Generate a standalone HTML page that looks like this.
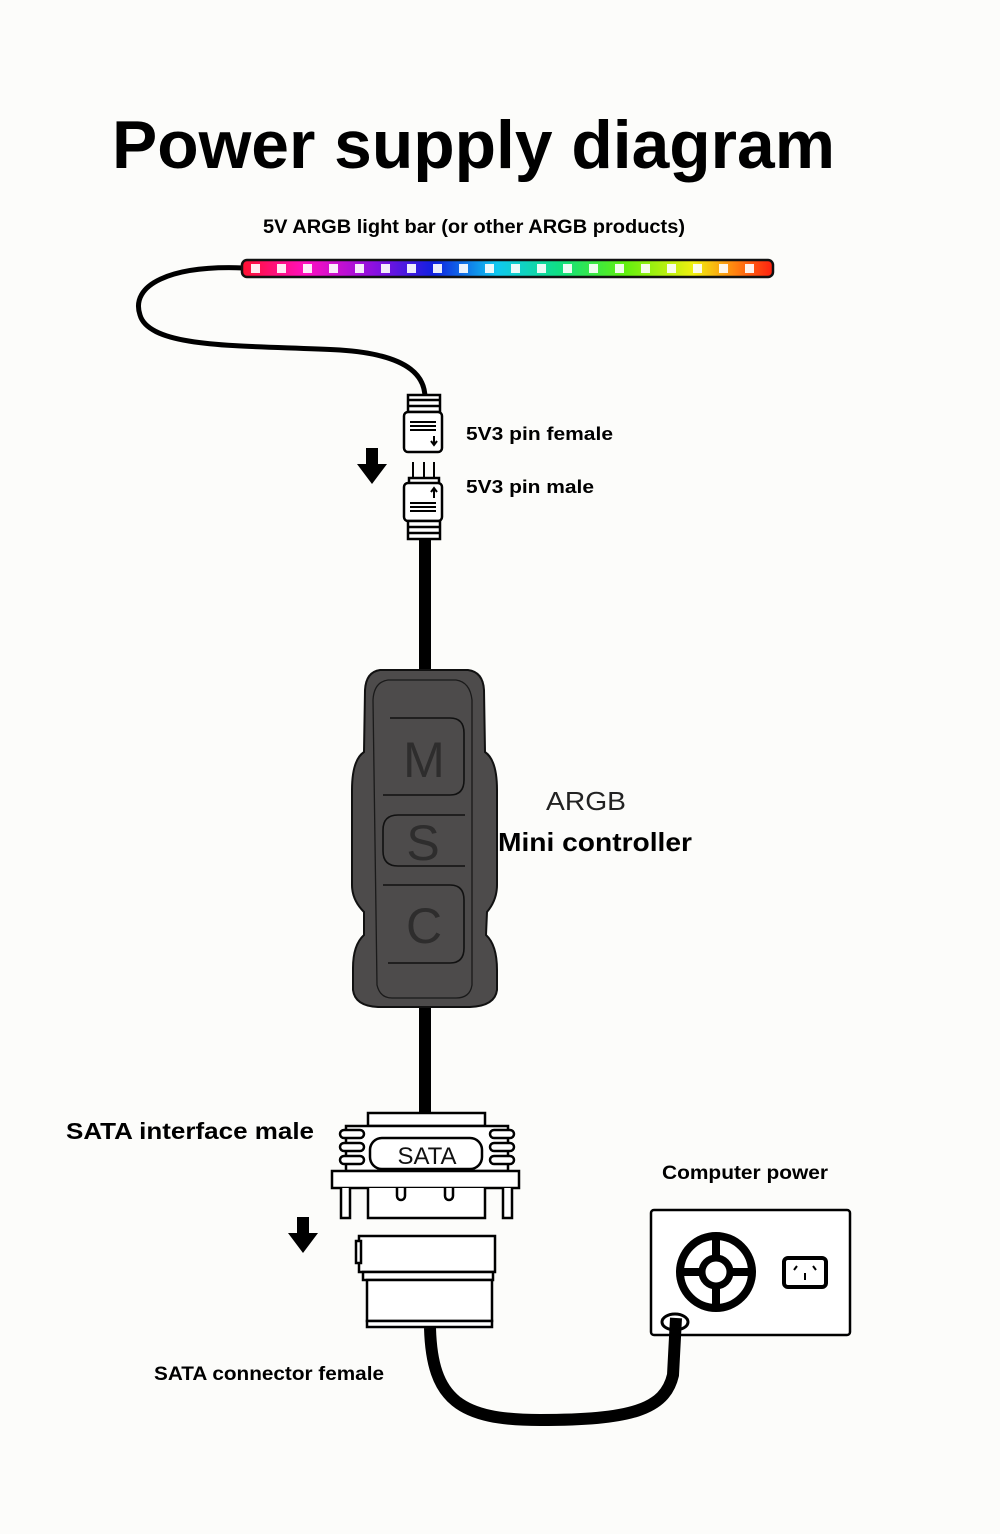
<!DOCTYPE html>
<html><head><meta charset="utf-8"><style>
html,body{margin:0;padding:0;background:#fcfcfa}
svg{display:block}
text{font-family:"Liberation Sans",sans-serif}
</style></head><body>
<svg width="1000" height="1534" viewBox="0 0 1000 1534" xmlns="http://www.w3.org/2000/svg">
<defs>
<linearGradient id="rb" x1="0" x2="1" y1="0" y2="0">
<stop offset="0" stop-color="#ff1030"/>
<stop offset="0.12" stop-color="#ff10c0"/>
<stop offset="0.25" stop-color="#8a10e0"/>
<stop offset="0.36" stop-color="#1020e0"/>
<stop offset="0.48" stop-color="#10c8f0"/>
<stop offset="0.6" stop-color="#10e080"/>
<stop offset="0.72" stop-color="#60f010"/>
<stop offset="0.85" stop-color="#f0f010"/>
<stop offset="0.93" stop-color="#ff8010"/>
<stop offset="1" stop-color="#ff2010"/>
</linearGradient>
</defs>
<rect width="1000" height="1534" fill="#fcfcfa"/>
<text x="112" y="168" font-size="68" font-weight="bold" textLength="723" lengthAdjust="spacingAndGlyphs">Power supply diagram</text>
<text x="263" y="233" font-size="19" font-weight="bold" textLength="422" lengthAdjust="spacingAndGlyphs">5V ARGB light bar (or other ARGB products)</text>

<path d="M244,268 C170,265 130,285 140,315 C150,350 250,345 340,350 C415,355 425,380 425,398" fill="none" stroke="#000" stroke-width="5"/>
<rect x="242" y="260" width="531" height="17" rx="5" fill="url(#rb)" stroke="#111" stroke-width="2.5"/>
<g fill="#fff" opacity="0.92">
<rect x="251" y="264" width="9" height="9"/><rect x="277" y="264" width="9" height="9"/><rect x="303" y="264" width="9" height="9"/><rect x="329" y="264" width="9" height="9"/><rect x="355" y="264" width="9" height="9"/><rect x="381" y="264" width="9" height="9"/><rect x="407" y="264" width="9" height="9"/><rect x="433" y="264" width="9" height="9"/><rect x="459" y="264" width="9" height="9"/><rect x="485" y="264" width="9" height="9"/><rect x="511" y="264" width="9" height="9"/><rect x="537" y="264" width="9" height="9"/><rect x="563" y="264" width="9" height="9"/><rect x="589" y="264" width="9" height="9"/><rect x="615" y="264" width="9" height="9"/><rect x="641" y="264" width="9" height="9"/><rect x="667" y="264" width="9" height="9"/><rect x="693" y="264" width="9" height="9"/><rect x="719" y="264" width="9" height="9"/><rect x="745" y="264" width="9" height="9"/>
</g>

<g fill="#fff" stroke="#000" stroke-width="2.5">
<rect x="408" y="395" width="32" height="17"/>
<line x1="408" y1="400" x2="440" y2="400"/><line x1="408" y1="406" x2="440" y2="406"/>
<rect x="404" y="412" width="38" height="40" rx="4"/>
</g>
<g stroke="#000" stroke-width="2"><line x1="410" y1="422" x2="436" y2="422"/><line x1="410" y1="426" x2="436" y2="426"/><line x1="410" y1="430" x2="436" y2="430"/></g>
<path d="M434,436 v8 M431,441 l3,4 l3,-4" stroke="#000" stroke-width="2" fill="none"/>
<g stroke="#000" stroke-width="2"><line x1="413" y1="462" x2="413" y2="482"/><line x1="424" y1="462" x2="424" y2="482"/><line x1="434" y1="462" x2="434" y2="482"/></g>
<g fill="#fff" stroke="#000" stroke-width="2.5">
<rect x="409" y="478" width="30" height="6"/>
<rect x="404" y="483" width="38" height="38" rx="4"/>
<rect x="408" y="521" width="32" height="18"/>
<line x1="408" y1="527" x2="440" y2="527"/><line x1="408" y1="533" x2="440" y2="533"/>
</g>
<g stroke="#000" stroke-width="2"><line x1="410" y1="503" x2="436" y2="503"/><line x1="410" y1="507" x2="436" y2="507"/><line x1="410" y1="511" x2="436" y2="511"/></g>
<path d="M434,498 v-9 M431,492 l3,-4 l3,4" stroke="#000" stroke-width="2" fill="none"/>
<text x="466" y="440" font-size="18" font-weight="bold" textLength="147" lengthAdjust="spacingAndGlyphs">5V3 pin female</text>
<text x="466" y="493" font-size="18" font-weight="bold" textLength="128" lengthAdjust="spacingAndGlyphs">5V3 pin male</text>
<path d="M366,448 h12 v16 h9 l-15,20 l-15,-20 h9 z" fill="#000"/>

<rect x="419" y="539" width="12" height="135" fill="#000"/>
<rect x="419" y="1000" width="12" height="115" fill="#000"/>

<path d="M380,670 H468 Q483,672 484,690 L485,752 Q497,760 497,790 L497,885 Q497,900 487,912 L486,935 Q497,945 497,970 L497,990 Q495,1006 470,1007 H378 Q355,1006 353,990 L353,968 Q353,945 364,935 L364,912 Q352,900 352,885 L352,790 Q352,760 364,752 L365,690 Q366,672 380,670 Z" fill="#4d4b4b" stroke="#111" stroke-width="2"/>
<path d="M388,680 H456 Q470,682 472,700 L472,985 Q470,998 456,998 H392 Q380,998 377,985 L373,700 Q374,682 388,680 Z" fill="none" stroke="#1a1a1a" stroke-width="1.3"/>
<g fill="none" stroke="#111" stroke-width="1.6">
<path d="M390,718 H450 Q464,718 464,733 V780 Q464,795 450,795 H383"/>
<path d="M465,815 H398 Q383,815 383,830 V851 Q383,866 398,866 H465"/>
<path d="M383,885 H450 Q464,885 464,900 V948 Q464,963 450,963 H388"/>
</g>
<g fill="#2e2d2d" font-size="50" text-anchor="middle">
<text x="424" y="777">M</text>
<text x="423" y="860">S</text>
<text x="424" y="943">C</text>
</g>
<text x="546" y="810" font-size="26" fill="#222" textLength="80" lengthAdjust="spacingAndGlyphs">ARGB</text>
<text x="498" y="851" font-size="26" font-weight="bold" textLength="194" lengthAdjust="spacingAndGlyphs">Mini controller</text>

<g fill="#fff" stroke="#000" stroke-width="2.5">
<rect x="368" y="1113" width="117" height="13"/>
<rect x="346" y="1126" width="162" height="45"/>
<rect x="370" y="1138" width="112" height="31" rx="12"/>
<path d="M344,1130 h16 a4,4 0 0 1 0,8 h-16 a4,4 0 0 1 0,-8 z M344,1143 h16 a4,4 0 0 1 0,8 h-16 a4,4 0 0 1 0,-8 z M344,1156 h16 a4,4 0 0 1 0,8 h-16 a4,4 0 0 1 0,-8 z"/>
<path d="M494,1130 h16 a4,4 0 0 1 0,8 h-16 a4,4 0 0 1 0,-8 z M494,1143 h16 a4,4 0 0 1 0,8 h-16 a4,4 0 0 1 0,-8 z M494,1156 h16 a4,4 0 0 1 0,8 h-16 a4,4 0 0 1 0,-8 z"/>
<rect x="332" y="1171" width="187" height="17"/>
<path d="M341,1188 v30 h9 v-30 M503,1188 v30 h9 v-30"/>
<path d="M368,1188 v30 h117 v-30"/>
<path d="M397,1188 v8 a4,4 0 0 0 8,0 v-8 M445,1188 v8 a4,4 0 0 0 8,0 v-8"/>
</g>
<text x="427" y="1164" font-size="24" text-anchor="middle" fill="#111">SATA</text>
<text x="66" y="1139" font-size="23" font-weight="bold" textLength="248" lengthAdjust="spacingAndGlyphs">SATA interface male</text>
<path d="M297,1217 h12 v16 h9 l-15,20 l-15,-20 h9 z" fill="#000"/>
<g fill="#fff" stroke="#000" stroke-width="2.5">
<rect x="359" y="1236" width="136" height="36"/>
<rect x="356" y="1241" width="5" height="22"/>
<rect x="363" y="1272" width="130" height="8"/>
<rect x="367" y="1280" width="125" height="41"/>
<rect x="367" y="1321" width="125" height="6"/>
</g>
<text x="154" y="1380" font-size="19" font-weight="bold" textLength="230" lengthAdjust="spacingAndGlyphs">SATA connector female</text>

<text x="662" y="1179" font-size="19" font-weight="bold" textLength="166" lengthAdjust="spacingAndGlyphs">Computer power</text>
<rect x="651" y="1210" width="199" height="125" rx="3" fill="#fff" stroke="#000" stroke-width="2.5"/>
<circle cx="716" cy="1272" r="36" fill="none" stroke="#000" stroke-width="8"/>
<path d="M716,1236 V1308 M680,1272 H752" stroke="#000" stroke-width="8"/>
<circle cx="716" cy="1272" r="14" fill="#fff" stroke="#000" stroke-width="7"/>
<rect x="784" y="1258" width="42" height="29" rx="4" fill="#fff" stroke="#000" stroke-width="4"/>
<path d="M794,1270 l3,-4 M816,1270 l-3,-4 M805,1273 v7" stroke="#000" stroke-width="2"/>
<ellipse cx="675" cy="1322" rx="13" ry="8" fill="none" stroke="#000" stroke-width="3"/>
<path d="M430,1328 C432,1400 460,1420 540,1420 C630,1420 665,1410 673,1375 L676,1318" fill="none" stroke="#000" stroke-width="12"/>
</svg>
</body></html>
